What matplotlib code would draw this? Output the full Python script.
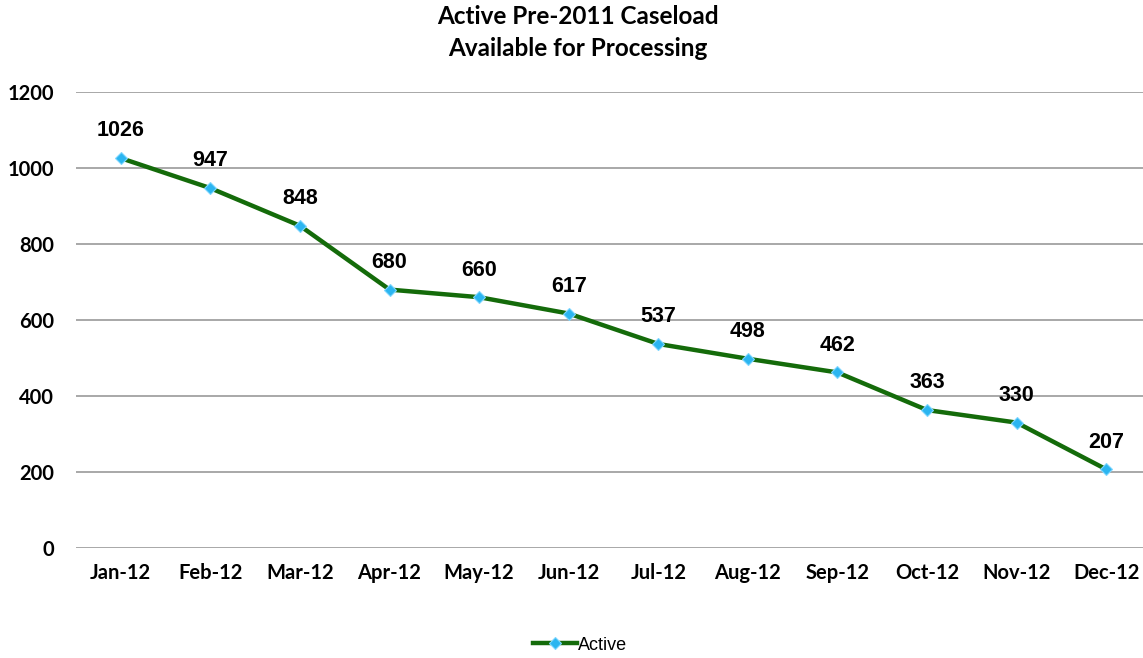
import numpy as np
import matplotlib.pyplot as plt
from matplotlib.lines import Line2D

months = ["Jan-12", "Feb-12", "Mar-12", "Apr-12", "May-12", "Jun-12",
          "Jul-12", "Aug-12", "Sep-12", "Oct-12", "Nov-12", "Dec-12"]
active = [1026, 947, 848, 680, 660, 617, 537, 498, 462, 363, 330, 207]
yticks = [0, 200, 400, 600, 800, 1000, 1200]

fig = plt.figure(figsize=(11.43, 6.58), dpi=100)
W, H = 1143, 658
ax = fig.add_axes([76 / W, 1 - 548 / H, 1075 / W, (548 - 92) / H])

x = np.arange(len(months))
ax.plot(x, active, color="#146b0a", lw=3.2, marker="D", ms=6.5,
        mfc="#2bb5f0", mec="#7fd6ff", mew=0.8, zorder=3)

for xi, v in zip(x, active):
    ax.annotate(str(v), (xi, v), xytext=(0, 12), textcoords="offset points",
                ha="center", va="bottom", fontsize=15.5, fontweight="bold",
                family="Liberation Sans", color="black")

ax.set_xlim(-0.5, len(months) - 0.5)
ax.set_ylim(0, 1200)
ax.set_yticks(yticks)
ax.set_xticks(x)
ax.set_xticklabels(months)
for s in ax.spines.values():
    s.set_visible(False)
ax.yaxis.grid(True, color="#999999", lw=1.2)
ax.set_axisbelow(True)
ax.tick_params(length=0, pad=11, labelsize=14.5)
ax.tick_params(axis="y", pad=16)
for lab in ax.get_xticklabels() + ax.get_yticklabels():
    lab.set_fontweight("bold")
    lab.set_family("Lato")

fig.text(578 / W, 1 - 17 / H, "Active Pre-2011 Caseload", ha="center", va="center",
         fontsize=17.5, fontweight="bold", family="Lato")
fig.text(578 / W, 1 - 49 / H, "Available for Processing", ha="center", va="center",
         fontsize=17.5, fontweight="bold", family="Lato")

handle = Line2D([], [], color="#146b0a", lw=3.2, marker="D", ms=6,
                mfc="#2bb5f0", mec="#7fd6ff", mew=0.8)
fig.legend([handle], ["Active"], loc="center", bbox_to_anchor=(580 / W, 1 - 645 / H),
           frameon=False, handlelength=2.4, handletextpad=0.05,
           prop={"family": "Liberation Sans", "size": 13})

fig.savefig("out.png", dpi=100)
